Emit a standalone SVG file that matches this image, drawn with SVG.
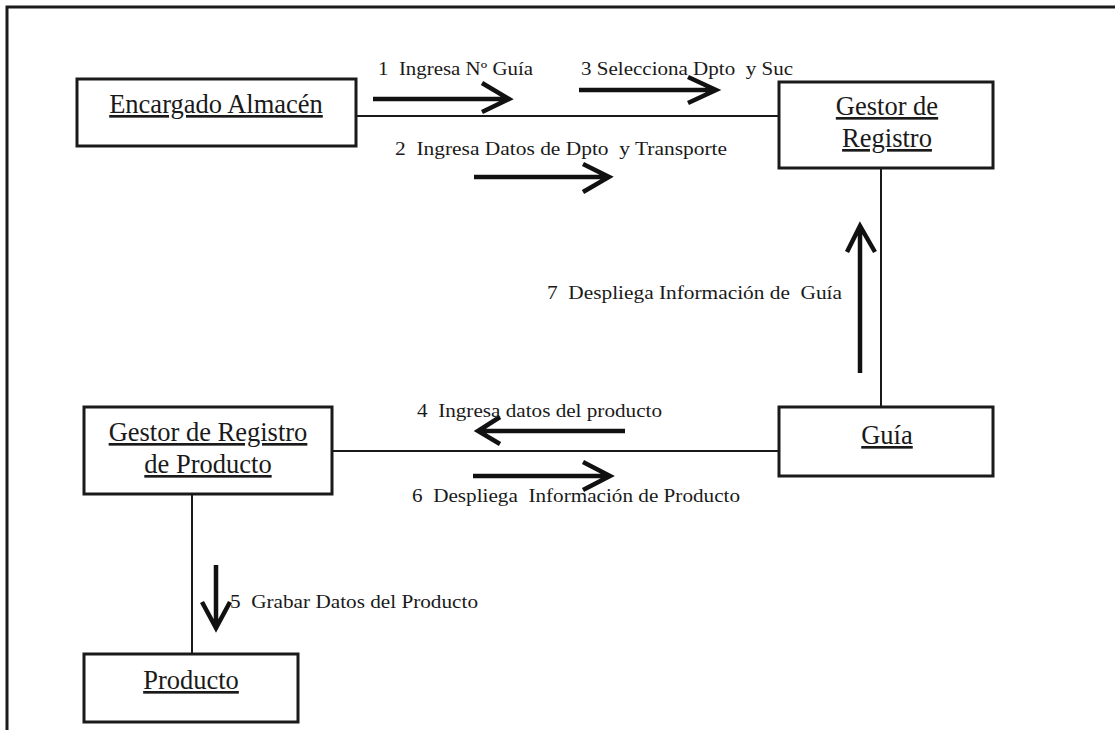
<svg xmlns="http://www.w3.org/2000/svg" width="1115" height="730" viewBox="0 0 1115 730">
  <defs>
    <style>
      .frame { fill: none; stroke: #1a1a1a; stroke-width: 3; }
      .box { fill: #ffffff; stroke: #1a1a1a; stroke-width: 3; }
      .title { font-family: "Liberation Serif", "Times New Roman", serif; font-size: 26.5px; fill: #1a1a1a; text-anchor: middle; text-decoration: underline; }
      .link { fill: none; stroke: #1a1a1a; stroke-width: 2; }
      .msg { fill: none; stroke: #111111; stroke-width: 4.5; stroke-linecap: butt; stroke-linejoin: miter; }
      .label { font-family: "Liberation Serif", "Times New Roman", serif; font-size: 18px; fill: #1a1a1a; white-space: pre; }
    </style>
  </defs>
  <rect width="1115" height="730" fill="#ffffff"/>

  <!-- page frame (open on right and bottom) -->
  <path class="frame" d="M7,730 V7 H1115"/>

  <!-- links between objects -->
  <g id="connectors">
    <line class="link" x1="356" y1="116" x2="780" y2="116"/>
    <line class="link" x1="881" y1="168" x2="881" y2="407"/>
    <line class="link" x1="332" y1="451" x2="780" y2="451"/>
    <line class="link" x1="192" y1="494" x2="192" y2="654"/>
  </g>

  <!-- numbered messages -->
  <g id="messages">
    <g id="msg1">
      <path class="msg" d="M373,99 H508 M482,83 L509,99 L482,112"/>
      <text class="label" x="378" y="75" textLength="155" lengthAdjust="spacingAndGlyphs">1  Ingresa Nº Guía</text>
    </g>
    <g id="msg2">
      <path class="msg" d="M474,177 H608 M583,164 L609,177 L583,192"/>
      <text class="label" x="395" y="155" textLength="332" lengthAdjust="spacingAndGlyphs">2  Ingresa Datos de Dpto  y Transporte</text>
    </g>
    <g id="msg3">
      <path class="msg" d="M579,90 H715 M688,77 L716,90 L688,103"/>
      <text class="label" x="581" y="75" textLength="212" lengthAdjust="spacingAndGlyphs">3 Selecciona Dpto  y Suc</text>
    </g>
    <g id="msg4">
      <path class="msg" d="M625,431 H479 M500,417 L478,431 L500,444"/>
      <text class="label" x="417" y="417" textLength="245" lengthAdjust="spacingAndGlyphs">4  Ingresa datos del producto</text>
    </g>
    <g id="msg5">
      <path class="msg" d="M216,565 V627 M202,602 L216,628 L230,602"/>
      <text class="label" x="230" y="608" textLength="248" lengthAdjust="spacingAndGlyphs">5  Grabar Datos del Producto</text>
    </g>
    <g id="msg6">
      <path class="msg" d="M473,476 H609 M583,462 L610,476 L583,490"/>
      <text class="label" x="412" y="502" textLength="328" lengthAdjust="spacingAndGlyphs">6  Despliega  Información de Producto</text>
    </g>
    <g id="msg7">
      <path class="msg" d="M860,373 V227 M847,252 L860,226 L875,252"/>
      <text class="label" x="547" y="299" textLength="295" lengthAdjust="spacingAndGlyphs">7  Despliega Información de  Guía</text>
    </g>
  </g>

  <!-- objects -->
  <g id="encargado-almacen">
    <rect class="box" x="77" y="79" width="279" height="67"/>
    <text class="title" x="216" y="113">Encargado Almacén</text>
  </g>
  <g id="gestor-registro">
    <rect class="box" x="779" y="82" width="214" height="86"/>
    <text class="title" x="887" y="115">Gestor de</text>
    <text class="title" x="887" y="147">Registro</text>
  </g>
  <g id="guia">
    <rect class="box" x="779" y="407" width="214" height="69"/>
    <text class="title" x="887" y="444">Guía</text>
  </g>
  <g id="gestor-registro-producto">
    <rect class="box" x="84" y="407" width="248" height="87"/>
    <text class="title" x="208" y="441">Gestor de Registro</text>
    <text class="title" x="208" y="473">de Producto</text>
  </g>
  <g id="producto">
    <rect class="box" x="84" y="654" width="214" height="68"/>
    <text class="title" x="191" y="689">Producto</text>
  </g>
</svg>
